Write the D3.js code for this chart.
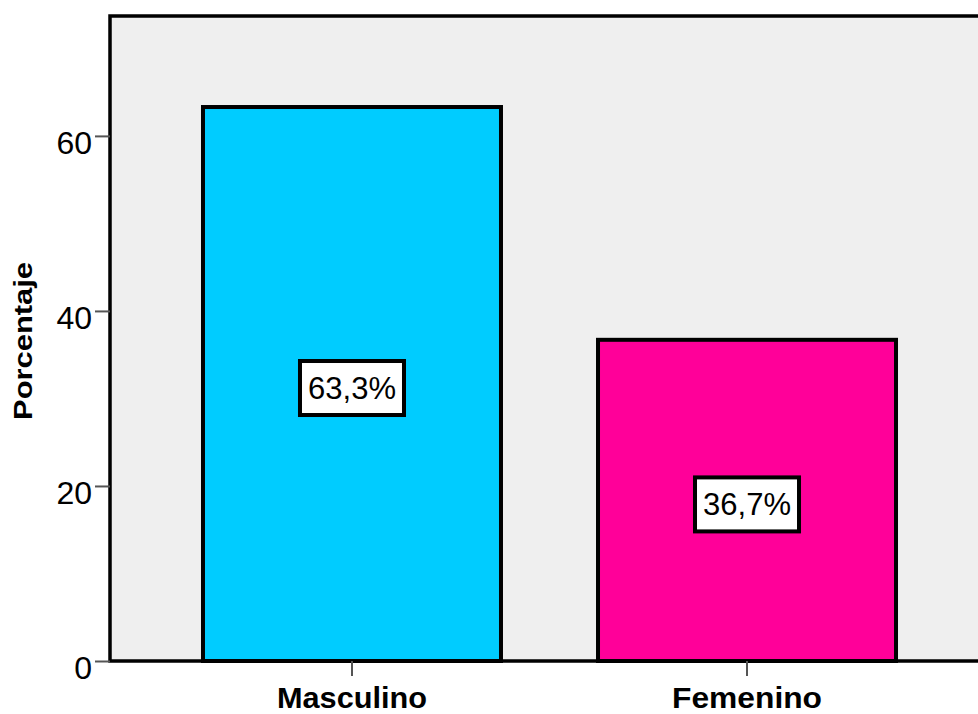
<!DOCTYPE html>
<html>
<head>
<meta charset="utf-8">
<script src="https://cdn.jsdelivr.net/npm/d3@7"></script>
<style>
  body { margin: 0; background: #fff; }
  svg { display: block; font-family: "Liberation Sans", Arial, sans-serif; }
</style>
</head>
<body>
<svg width="978" height="714"></svg>
<script>
var categories = ["Masculino", "Femenino"];
var values = [63.3, 36.7];
var colors = ["#00ccff", "#ff0099"];
var yTicks = [0, 20, 40, 60];

var svg = d3.select("svg");
var plot = {"left": 110, "right": 989, "top": 16, "bottom": 661};

var x = d3.scaleBand().domain(categories)
    .range([plot.left, plot.right])
    .paddingInner(0.2456).paddingOuter(0.2354);
var y = d3.scaleLinear().domain([0, 73.7]).range([plot.bottom, plot.top]);

var locale = d3.formatLocale({"decimal": ",", "thousands": ".", "grouping": [3], "currency": ["", "€"]});
var fmt = locale.format(".1f");

// background
svg.append("rect")
    .attr("x", plot.left).attr("y", plot.top)
    .attr("width", plot.right - plot.left).attr("height", plot.bottom - plot.top)
    .attr("fill", "#efefef");

// bars
svg.selectAll(".bar")
    .data(values)
    .enter().append("rect")
    .attr("class", "bar")
    .attr("x", function (d, i) { return x(categories[i]); })
    .attr("y", function (d) { return y(d); })
    .attr("width", x.bandwidth())
    .attr("height", function (d) { return plot.bottom - y(d); })
    .attr("fill", function (d, i) { return colors[i]; })
    .attr("stroke", "#000").attr("stroke-width", 4);

// frame lines
svg.append("rect")
    .attr("x", plot.left).attr("y", plot.top)
    .attr("width", plot.right - plot.left).attr("height", plot.bottom - plot.top)
    .attr("fill", "none").attr("stroke", "#000").attr("stroke-width", 3.5);

// y axis
var yAxis = svg.append("g")
    .attr("transform", "translate(" + plot.left + ",0)")
    .call(d3.axisLeft(y).tickValues(yTicks).tickSize(15).tickPadding(3));
yAxis.select(".domain").remove();
yAxis.selectAll(".tick line").attr("stroke", "#555").attr("stroke-width", 2);
yAxis.selectAll(".tick text")
    .attr("font-size", 32).attr("fill", "#000").attr("dy", "0.55em")
    .attr("font-family", "'Liberation Sans', Arial, sans-serif");

// x axis
var xAxis = svg.append("g")
    .attr("transform", "translate(0," + plot.bottom + ")")
    .call(d3.axisBottom(x).tickSize(15).tickPadding(11));
xAxis.select(".domain").remove();
xAxis.selectAll(".tick line").attr("stroke", "#555").attr("stroke-width", 2);
xAxis.selectAll(".tick text")
    .attr("font-size", 30).attr("font-weight", "bold").attr("fill", "#000")
    .attr("dy", "0.71em")
    .attr("textLength", 150).attr("lengthAdjust", "spacingAndGlyphs")
    .attr("font-family", "'Liberation Sans', Arial, sans-serif");

// y axis title
svg.append("text")
    .attr("transform", "translate(32," + 341 + ") rotate(-90)")
    .attr("text-anchor", "middle")
    .attr("font-size", 26).attr("font-weight", "bold")
    .attr("textLength", 158).attr("lengthAdjust", "spacingAndGlyphs")
    .text("Porcentaje");

// value labels
var labels = svg.selectAll(".lbl")
    .data(values)
    .enter().append("g")
    .attr("class", "lbl")
    .attr("transform", function (d, i) {
        return "translate(" + (x(categories[i]) + x.bandwidth() / 2) + "," + (y(d / 2) + 3) + ")";
    });
labels.append("rect")
    .attr("x", -52).attr("y", -26).attr("width", 104).attr("height", 54)
    .attr("fill", "#fff").attr("stroke", "#000").attr("stroke-width", 4);
labels.append("text")
    .attr("text-anchor", "middle").attr("y", 12)
    .attr("font-size", 31)
    .attr("textLength", 88).attr("lengthAdjust", "spacingAndGlyphs")
    .text(function (d) { return fmt(d) + "%"; });
</script>
</body>
</html>
